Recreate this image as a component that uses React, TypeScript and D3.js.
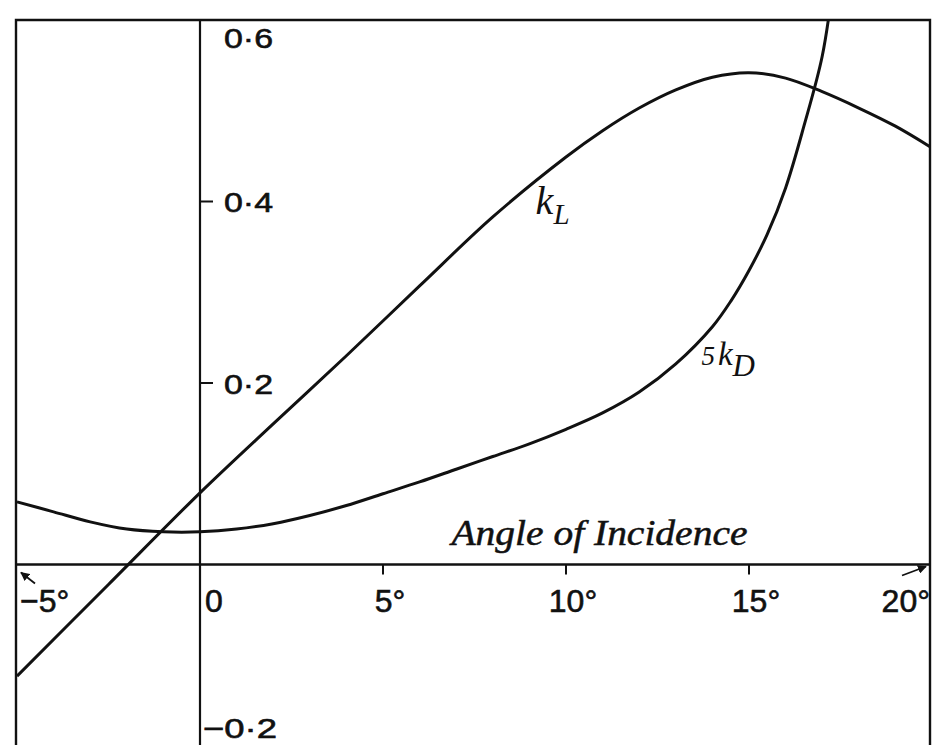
import React from "react";
import * as d3 from "d3";

// ---- data ----
const angleTicks = [-5, 0, 5, 10, 15, 20];
const angleTickLabels = ["−5°", "0", "5°", "10°", "15°", "20°"];
const coefTicks = [0.6, 0.4, 0.2, -0.2];
const coefTickLabels = ["0·6", "0·4", "0·2", "−0·2"];

const kLAngles = [-5, -2.5, 0, 2, 4, 6, 8, 10, 11, 12, 13, 14, 15, 16, 17, 18, 19, 20];
const kLValues = [-0.123, -0.022, 0.079, 0.155, 0.23, 0.307, 0.383, 0.449, 0.478, 0.503, 0.523, 0.537, 0.542, 0.536, 0.521, 0.503, 0.483, 0.459];

const kDAngles = [-5, -4, -3, -2, -1, 0, 1, 2, 3, 4, 5, 6, 7, 8, 9, 10, 11, 12, 13, 14, 14.5, 15, 15.5, 16, 16.5, 17, 17.3];
const kDValues = [0.069, 0.058, 0.047, 0.039, 0.036, 0.036, 0.039, 0.045, 0.054, 0.065, 0.078, 0.091, 0.105, 0.119, 0.133, 0.149, 0.167, 0.19, 0.221, 0.262, 0.29, 0.324, 0.364, 0.415, 0.483, 0.56, 0.64];

const axisTitle = "Angle of Incidence";

const W = 932;
const H = 745;

export default function App() {
  const x = d3.scaleLinear().domain([-5, 20]).range([17, 932]);
  const y = d3.scaleLinear().domain([-0.2, 0.6]).range([746, 20]);
  const line = d3
    .line<[number, number]>()
    .x((d) => x(d[0]))
    .y((d) => y(d[1]))
    .curve(d3.curveCatmullRom.alpha(0.5));

  const kL = line(kLAngles.map((a, i) => [a, kLValues[i]]) as [number, number][]) || "";
  const kD = line(kDAngles.map((a, i) => [a, kDValues[i]]) as [number, number][]) || "";

  const left = 16;
  const right = 930;
  const top = 20;
  const x0 = x(0);
  const y0 = y(0);

  const sans = "'Liberation Sans', Arial, sans-serif";
  const serif = "'Liberation Serif', 'Times New Roman', serif";

  // label placement per x tick
  const xLabelLayout = (v: number) => {
    if (v === -5) return { tx: x(v) + 3, anchor: "start" };
    if (v === 0) return { tx: x(v) + 5, anchor: "start" };
    if (v === 20) return { tx: x(v) - 2, anchor: "end" };
    return { tx: x(v) + 7, anchor: "middle" };
  };
  const yLabelOffset = (v: number) => (v === 0.6 ? 18 : v === -0.2 ? -18 : 1);

  return (
    <svg
      width={W}
      height={H}
      style={{ position: "absolute", left: 0, top: 0, background: "#fff" }}
    >
      <defs>
        <clipPath id="plotClip">
          <rect x={left} y={top} width={right - left} height={H - top + 20} />
        </clipPath>
        <marker id="ah" viewBox="0 0 10 10" refX="9" refY="5" markerWidth="5" markerHeight="5" orient="auto">
          <path d="M0,0 L10,5 L0,10 z" fill="#111" />
        </marker>
      </defs>
      <rect x={0} y={0} width={W} height={H} fill="#fff" />

      {/* frame */}
      <path
        d={`M${left},${H + 5} L${left},${top} L${right},${top} L${right},${H + 5}`}
        fill="none"
        stroke="#111"
        strokeWidth={2.4}
      />

      {/* axes */}
      <line x1={x0} x2={x0} y1={top} y2={H + 5} stroke="#111" strokeWidth={2.2} />
      <line x1={left} x2={right} y1={y0} y2={y0} stroke="#111" strokeWidth={2.6} />

      {/* x ticks */}
      {angleTicks
        .filter((v) => v > 0 && v < 20)
        .map((v) => (
          <line key={"xt" + v} x1={x(v)} x2={x(v)} y1={y0} y2={y0 + 10} stroke="#111" strokeWidth={2} />
        ))}
      {angleTicks.map((v, i) => {
        const l = xLabelLayout(v);
        return (
          <text
            key={"xl" + v}
            x={l.tx}
            y={y0 + 47}
            textAnchor={l.anchor as any}
            fontFamily={sans}
            fontSize={32}
            fill="#111"
            stroke="#111"
            strokeWidth={0.6}
          >
            {angleTickLabels[i]}
          </text>
        );
      })}
      {/* corner pointers */}
      <line x1={x(-5) + 18} y1={y0 + 19} x2={x(-5) + 4} y2={y0 + 8} stroke="#111" strokeWidth={1.8} markerEnd="url(#ah)" />
      <line x1={x(20) - 30} y1={y0 + 11} x2={x(20) - 6} y2={y0 + 2} stroke="#111" strokeWidth={1.8} markerEnd="url(#ah)" />

      {/* y ticks */}
      {coefTicks
        .filter((v) => v > 0 && v < 0.6)
        .map((v) => (
          <line key={"yt" + v} x1={x0} x2={x0 + 13} y1={y(v)} y2={y(v)} stroke="#111" strokeWidth={2} />
        ))}
      {coefTicks.map((v, i) => (
        <text
          key={"yl" + v}
          x={v < 0 ? x0 + 3 : x0 + 24}
          y={y(v) + yLabelOffset(v)}
          dominantBaseline="central"
          fontFamily={sans}
          fontSize={28}
          textLength={v < 0 ? 74 : 49}
          lengthAdjust="spacingAndGlyphs"
          fill="#111"
          stroke="#111"
          strokeWidth={0.6}
        >
          {coefTickLabels[i]}
        </text>
      ))}

      {/* curves */}
      <g clipPath="url(#plotClip)">
        <path d={kL} fill="none" stroke="#111" strokeWidth={3} />
        <path d={kD} fill="none" stroke="#111" strokeWidth={3} />
      </g>

      {/* curve labels */}
      <text x={x(9.17)} y={y(0.386)} fontFamily={serif} fontStyle="italic" fontSize={40} fill="#111">
        k
        <tspan dx={0} dy={10} fontSize={29}>L</tspan>
      </text>
      <text x={x(13.7)} y={y(0.22)} fontFamily={serif} fontStyle="italic" fontSize={27} fill="#111">
        5
        <tspan dx={3} fontSize={33}>k</tspan>
        <tspan dx={0} dy={11} fontSize={31}>D</tspan>
      </text>

      {/* axis title */}
      <text
        x={x(6.87)}
        y={y(0.022)}
        fontFamily={serif}
        fontStyle="italic"
        fontSize={35}
        textLength={296}
        lengthAdjust="spacingAndGlyphs"
        fill="#111"
        stroke="#111"
        strokeWidth={0.5}
      >
        {axisTitle}
      </text>
    </svg>
  );
}
